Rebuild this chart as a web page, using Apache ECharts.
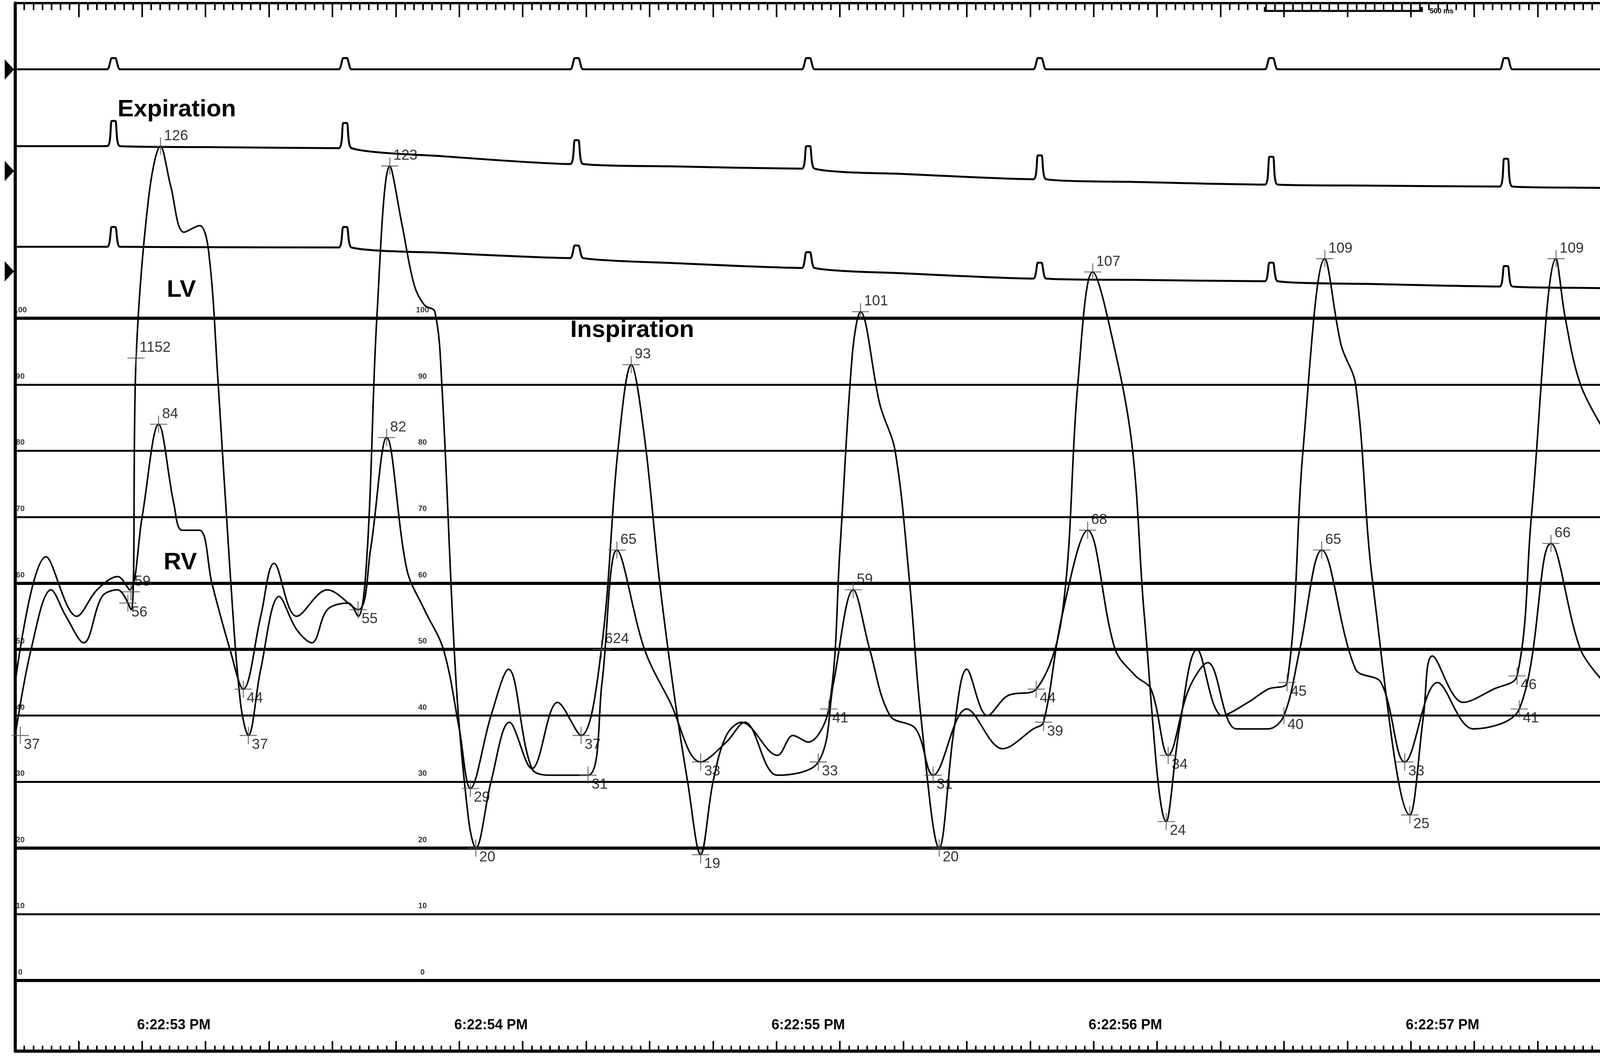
<!DOCTYPE html>
<html><head><meta charset="utf-8">
<script src="https://cdn.jsdelivr.net/npm/echarts@6/dist/echarts.min.js"></script>
<style>html,body{margin:0;padding:0;background:#fff}#c{width:4110px;height:2707px}</style>
</head><body><div id="c"></div>
<script>
// time in seconds from left edge, pressure in mmHg
const timeLabels = ['6:22:53 PM','6:22:54 PM','6:22:55 PM','6:22:56 PM','6:22:57 PM'];
const yTickLabels = [0,10,20,30,40,50,60,70,80,90,100];
const thickLines = [0,20,50,60,100];
const lvData = [[0,37],[0.05,50],[0.113,59],[0.16,55],[0.216,51],[0.274,58],[0.323,59],[0.365,56],[0.381,94],[0.42,118],[0.458,126],[0.49,120],[0.532,113],[0.581,114],[0.61,110],[0.64,90],[0.677,62],[0.71,42],[0.735,37],[0.774,47],[0.832,58],[0.887,53],[0.935,51],[0.984,56],[1.05,57],[1.081,55],[1.11,65],[1.14,100],[1.181,123],[1.22,114],[1.258,105],[1.29,102],[1.323,101],[1.345,90],[1.39,45],[1.43,24],[1.452,20],[1.5,30],[1.558,39],[1.629,32],[1.71,42],[1.784,37],[1.848,50],[1.9,80],[1.942,93],[1.984,82],[2.032,60],[2.081,42],[2.12,30],[2.161,19],[2.2,30],[2.242,37],[2.29,39],[2.403,34],[2.452,37],[2.5,36],[2.565,41],[2.6,65],[2.64,95],[2.665,101],[2.726,87],[2.774,80],[2.82,60],[2.855,40],[2.913,20],[2.96,38],[3.0,47],[3.065,40],[3.129,43],[3.219,44],[3.3,55],[3.35,90],[3.397,107],[3.468,95],[3.523,80],[3.56,55],[3.629,24],[3.67,38],[3.726,50],[3.806,40],[3.887,42],[3.95,44],[4.01,45],[4.06,80],[4.129,109],[4.18,96],[4.226,90],[4.28,60],[4.397,25],[4.44,40],[4.468,49],[4.565,42],[4.661,44],[4.735,46],[4.78,70],[4.858,109],[4.887,100],[4.935,90],[5.01,83]];
const rvData = [[0,45],[0.097,64],[0.194,55],[0.258,59],[0.323,61],[0.361,59],[0.4,70],[0.452,84],[0.5,72],[0.526,68],[0.581,68],[0.62,60],[0.677,50],[0.719,44],[0.774,55],[0.816,63],[0.887,55],[0.984,59],[1.081,56],[1.12,65],[1.171,82],[1.235,62],[1.29,56],[1.35,50],[1.4,38],[1.435,29],[1.5,40],[1.555,47],[1.629,32],[1.694,31],[1.806,31],[1.85,45],[1.897,65],[1.984,50],[2.065,42],[2.161,33],[2.242,36],[2.3,39],[2.403,31],[2.532,33],[2.58,45],[2.642,59],[2.694,50],[2.758,40],[2.839,38],[2.894,31],[3.0,41],[3.113,35],[3.21,38],[3.242,39],[3.3,55],[3.381,68],[3.468,50],[3.532,46],[3.581,44],[3.635,34],[3.7,44],[3.76,48],[3.85,38],[3.95,38],[4.0,40],[4.05,50],[4.119,65],[4.226,47],[4.306,45],[4.381,33],[4.484,45],[4.597,38],[4.742,41],[4.842,66],[4.935,50],[5.01,45]];
const peakMarks = [[0.458,126,'126'],[1.181,123,'123'],[1.942,93,'93'],[2.665,101,'101'],[3.397,107,'107'],[4.129,109,'109'],[4.858,109,'109'],[0.452,84,'84'],[1.171,82,'82'],[1.897,65,'65'],[2.642,59,'59'],[3.381,68,'68'],[4.119,65,'65'],[4.842,66,'66'],[0.381,94,'1152'],[1.848,50,'624'],[0.365,58.7,'59']];
const troughMarks = [[0.016,37,'37'],[0.735,37,'37'],[1.452,20,'20'],[1.784,37,'37'],[2.161,19,'19'],[2.565,41,'41'],[2.913,20,'20'],[3.219,44,'44'],[3.629,24,'24'],[4.01,45,'45'],[4.397,25,'25'],[4.735,46,'46'],[0.355,57,'56'],[0.719,44,'44'],[1.081,56,'55'],[1.435,29,'29'],[1.806,31,'31'],[2.161,33,'33'],[2.532,33,'33'],[2.894,31,'31'],[3.242,39,'39'],[3.635,34,'34'],[4.0,40,'40'],[4.381,33,'33'],[4.742,41,'41']];
// ECG lanes (plotted in the same vertical units)
const ecgBeats = [0.31,1.04,1.77,2.50,3.23,3.96,4.70];
const ecg1Base = [137.6,137.6,137.6,137.6,137.6,137.6,137.6,137.6];
const ecg1Peak = [139.3,139.3,139.3,139.3,139.3,139.3,139.3];
const ecg2Base = [126.0,125.7,123.3,122.6,121.0,120.2,119.9,119.5];
const ecg2Peak = [129.8,129.5,126.9,126.0,124.6,124.4,124.1];
const ecg3Base = [110.8,110.7,109.1,107.6,106.0,105.6,104.8,104.3];
const ecg3Peak = [113.8,113.8,111.0,110.0,108.4,108.4,107.9];

function ecgSeries(base, peak){
  const pts=[[0,base[0]]];
  ecgBeats.forEach((t,i)=>{
    pts.push([t-0.02,base[i]]);pts.push([t-0.006,peak[i]]);pts.push([t+0.006,peak[i]]);pts.push([t+0.02,base[i]]);
    pts.push([t+0.3,(base[i]+base[i+1])/2]);
  });
  pts.push([5.01,base[base.length-1]]);
  return {type:'line',data:pts,symbol:'none',smooth:0.2,lineStyle:{color:'#000',width:5},z:3,silent:true};
}
const plus='path://M0,4.7H10V5.3H0ZM4.7,0H5.3V10H4.7Z';
const labFont={color:'#000',fontSize:37,fontFamily:'Liberation Sans, Arial'};
const ch=echarts.init(document.getElementById('c'));
ch.setOption({
  animation:false,backgroundColor:'#fff',
  grid:{left:39,right:0,top:8,bottom:15},
  xAxis:[
    {type:'value',min:0,max:5.01,interval:0.2,position:'bottom',axisLine:{onZero:false,lineStyle:{color:'#000',width:8}},
     axisTick:{inside:true,length:26,lineStyle:{color:'#000',width:4}},minorTick:{show:true,splitNumber:7,length:14,lineStyle:{color:'#000',width:4}},
     axisLabel:{show:false},splitLine:{show:false}},
    {type:'value',min:0,max:5.01,interval:0.2,position:'top',axisLine:{onZero:false,lineStyle:{color:'#000',width:6}},
     axisTick:{inside:true,length:36,lineStyle:{color:'#000',width:4}},minorTick:{show:true,splitNumber:7,length:18,lineStyle:{color:'#000',width:4}},
     axisLabel:{show:false},splitLine:{show:false}},
    {type:'value',min:0,max:5.01,interval:0.5,position:'bottom',axisLine:{show:false,onZero:false},axisTick:{show:false},splitLine:{show:false},
     axisLabel:{inside:true,margin:48,color:'#000',fontSize:36,fontWeight:'bold',fontFamily:'Liberation Sans, Arial',
       formatter:v=>{const k=Math.round(v*2);return k%2===1?(timeLabels[(k-1)/2]||''):'';}}}
  ],
  yAxis:{type:'value',min:-10.67,max:147.6,axisLine:{show:true,onZero:false,lineStyle:{color:'#000',width:8}},axisTick:{show:false},axisLabel:{show:false},splitLine:{show:false}},
  series:[
    {type:'line',data:[],markLine:{silent:true,symbol:'none',label:{show:false},
      data:yTickLabels.map(v=>({yAxis:v,lineStyle:{color:'#000',type:'solid',width:thickLines.includes(v)?8:5}}))}},
    ecgSeries(ecg1Base,ecg1Peak),ecgSeries(ecg2Base,ecg2Peak),ecgSeries(ecg3Base,ecg3Peak),
    {type:'line',data:lvData,smooth:0.35,symbol:'none',lineStyle:{color:'#000',width:4},z:4},
    {type:'line',data:rvData,smooth:0.35,symbol:'none',lineStyle:{color:'#000',width:4},z:4},
    {type:'scatter',data:peakMarks,symbol:plus,symbolSize:44,itemStyle:{color:'#555'},z:5,
     label:{show:true,position:'right',offset:[-18,-26],formatter:p=>p.data[2],...labFont}},
    {type:'scatter',data:troughMarks,symbol:plus,symbolSize:44,itemStyle:{color:'#555'},z:5,
     label:{show:true,position:'right',offset:[-18,24],formatter:p=>p.data[2],...labFont}},
    {type:'scatter',data:yTickLabels.map(v=>[0.016,v]).concat(yTickLabels.map(v=>[1.284,v])),symbolSize:1,itemStyle:{color:'transparent'},
     label:{show:true,position:'top',distance:10,formatter:p=>String(p.data[1]),color:'#000',fontSize:20,fontWeight:'bold',fontFamily:'Liberation Sans, Arial'}}
  ],
  graphic:[
    {type:'text',left:301,top:250,style:{text:'Expiration',fontSize:62,fontWeight:'bold',fill:'#000',fontFamily:'Liberation Sans, Arial'}},
    {type:'text',left:427,top:712,style:{text:'LV',fontSize:62,fontWeight:'bold',fill:'#000',fontFamily:'Liberation Sans, Arial'}},
    {type:'text',left:419,top:1410,style:{text:'RV',fontSize:62,fontWeight:'bold',fill:'#000',fontFamily:'Liberation Sans, Arial'}},
    {type:'text',left:1460,top:815,style:{text:'Inspiration',fontSize:62,fontWeight:'bold',fill:'#000',fontFamily:'Liberation Sans, Arial'}},
    {type:'polygon',shape:{points:[[12,152],[36,178],[12,204]]},style:{fill:'#000'}},
    {type:'polygon',shape:{points:[[12,412],[36,438],[12,464]]},style:{fill:'#000'}},
    {type:'polygon',shape:{points:[[12,669],[36,695],[12,721]]},style:{fill:'#000'}},
    {type:'polyline',shape:{points:[[3238,18],[3238,28],[3640,28],[3640,18]]},style:{stroke:'#000',lineWidth:5,fill:null}},
    {type:'text',left:3660,top:20,style:{text:'500 ms',fontSize:18,fontWeight:'bold',fill:'#000',fontFamily:'Liberation Sans, Arial'}}
  ]
});
</script></body></html>
